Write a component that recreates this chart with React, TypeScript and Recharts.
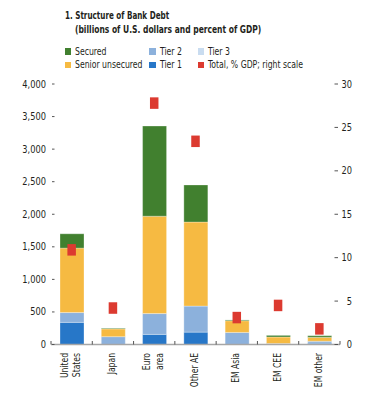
import React from 'react';
import { ComposedChart, Bar, Line, XAxis, YAxis } from 'recharts';

const categories = ['United States', 'Japan', 'Euro area', 'Other AE', 'EM Asia', 'EM CEE', 'EM other'];
const categoryLines = [['United', 'States'], ['Japan'], ['Euro', 'area'], ['Other AE'], ['EM Asia'], ['EM CEE'], ['EM other']];
const tier1 = [340, 0, 155, 190, 0, 8, 20];
const tier2 = [150, 120, 320, 400, 185, 7, 30];
const tier3 = [0, 0, 0, 0, 0, 0, 0];
const seniorUnsecured = [990, 120, 1495, 1290, 180, 100, 60];
const secured = [220, 10, 1385, 570, 12, 25, 25];
const totalGdp = [10.9, 4.2, 27.8, 23.4, 3.1, 4.5, 1.8];
const leftTicks = [0, 500, 1000, 1500, 2000, 2500, 3000, 3500, 4000];
const rightTicks = [0, 5, 10, 15, 20, 25, 30];

const data = categories.map((c, i) => ({
  name: c,
  tier1: tier1[i],
  tier2: tier2[i],
  tier3: tier3[i],
  senior: seniorUnsecured[i],
  secured: secured[i],
  total: totalGdp[i],
}));

const W = 366;
const H = 400;
const PLOT_LEFT = 51;
const PLOT_RIGHT = 340;
const PLOT_TOP = 84;
const PLOT_BOTTOM = 344.5;
const FONT = "'DejaVu Sans Condensed', 'Liberation Sans Narrow', 'Arial Narrow', sans-serif";
const TEXT = '#231f20';

const C = {
  secured: '#41802f',
  senior: '#f6ba42',
  tier2: '#8cb1dc',
  tier3: '#c9dcf0',
  tier1: '#2777c8',
  red: '#dc3a30',
};

const LeftTick = (props: any) => {
  const { y, payload } = props;
  const tx = PLOT_LEFT - 5;
  return (
    <g>
      <line x1={PLOT_LEFT + 1} x2={PLOT_LEFT + 3.5} y1={y} y2={y} stroke="#555" strokeWidth={1} />
      <text
        transform={`translate(${tx} ${y + 3.5}) scale(0.92 1)`}
        textAnchor="end"
        fontFamily={FONT}
        fontSize={10}
        fill={TEXT}
      >
        {Number(payload.value).toLocaleString('en-US')}
      </text>
    </g>
  );
};

const RightTick = (props: any) => {
  const { y, payload } = props;
  const tx = PLOT_RIGHT + 12;
  return (
    <g>
      <line x1={PLOT_RIGHT - 5.5} x2={PLOT_RIGHT - 2} y1={y} y2={y} stroke="#555" strokeWidth={1} />
      <text
        transform={`translate(${tx} ${y + 3.5}) scale(0.92 1)`}
        textAnchor="end"
        fontFamily={FONT}
        fontSize={10}
        fill={TEXT}
      >
        {payload.value}
      </text>
    </g>
  );
};

const XTick = (props: any) => {
  const { x, index } = props;
  const band = (PLOT_RIGHT - PLOT_LEFT) / categories.length;
  const lines = categoryLines[index] || [];
  const top = PLOT_BOTTOM + 8.5;
  const cx = x - 1;
  const spacing = 12.7;
  return (
    <g>
      <line x1={x - band / 2} x2={x - band / 2} y1={PLOT_BOTTOM} y2={PLOT_BOTTOM - 3.5} stroke="#555" strokeWidth={1} />
      {index === categories.length - 1 && (
        <line x1={x + band / 2} x2={x + band / 2} y1={PLOT_BOTTOM} y2={PLOT_BOTTOM - 3.5} stroke="#555" strokeWidth={1} />
      )}
      {lines.map((ln, i) => {
        const bx = cx + 3.5 + (i - (lines.length - 1) / 2) * spacing;
        return (
          <text
            key={i}
            transform={`translate(${bx} ${top}) rotate(-90) scale(0.85 1)`}
            textAnchor="end"
            fontFamily={FONT}
            fontSize={10}
            fill={TEXT}
          >
            {ln}
          </text>
        );
      })}
    </g>
  );
};

const renderMarker = (p: any) => {
  if (p.cx == null || p.cy == null) return <g key={p.index} />;
  return <rect key={p.index} x={p.cx - 4.25} y={p.cy - 5.75} width={8.5} height={11.5} fill={C.red} />;
};

const legendItems = [
  { label: 'Secured', color: C.secured, x: 64.5, y: 51.7 },
  { label: 'Tier 2', color: C.tier2, x: 149, y: 51.7 },
  { label: 'Tier 3', color: C.tier3, x: 197.7, y: 51.7 },
  { label: 'Senior unsecured', color: C.senior, x: 64.5, y: 65.2 },
  { label: 'Tier 1', color: C.tier1, x: 149, y: 65.2 },
  { label: 'Total, % GDP; right scale', color: C.red, x: 197.7, y: 65.2 },
];

const barStroke = { stroke: '#ffffff', strokeWidth: 0.6, strokeOpacity: 0.5 };

export default function App() {
  return (
    <div style={{ position: 'absolute', left: 0, top: 0, width: W, height: H, background: '#fff', fontFamily: FONT, color: TEXT }}>
      <div
        style={{
          position: 'absolute', left: 65, top: 9.5, fontSize: 10, fontWeight: 'bold', lineHeight: '12px',
          whiteSpace: 'nowrap', transform: 'scaleX(0.8)', transformOrigin: 'left center',
        }}
      >
        1. Structure of Bank Debt
      </div>
      <div
        style={{
          position: 'absolute', left: 75.3, top: 23.5, fontSize: 10, fontWeight: 'bold', lineHeight: '12px',
          whiteSpace: 'nowrap', transform: 'scaleX(0.84)', transformOrigin: 'left center',
        }}
      >
        (billions of U.S. dollars and percent of GDP)
      </div>
      {legendItems.map((it) => (
        <div key={it.label} style={{ position: 'absolute', left: it.x, top: it.y - 6, height: 12, whiteSpace: 'nowrap' }}>
          <span style={{ position: 'absolute', left: 0, top: 2.75, width: 6.5, height: 6.5, background: it.color }} />
          <span
            style={{
              position: 'absolute', left: 10.5, top: 0, fontSize: 10, lineHeight: '12px',
              transform: 'scaleX(0.86)', transformOrigin: 'left center',
            }}
          >
            {it.label}
          </span>
        </div>
      ))}
      <div style={{ position: 'absolute', left: 0, top: 0 }}>
        <ComposedChart
          width={W}
          height={H}
          data={data}
          margin={{ top: PLOT_TOP, right: 0, bottom: 0, left: 0 }}
          barCategoryGap={0}
        >
          <XAxis
            dataKey="name"
            height={H - PLOT_BOTTOM}
            axisLine={{ stroke: '#a6a6a6', strokeWidth: 1.5 }}
            tickLine={false}
            tickSize={0}
            interval={0}
            tick={XTick}
          />
          <YAxis
            yAxisId="left"
            orientation="left"
            domain={[0, 4000]}
            ticks={leftTicks}
            width={PLOT_LEFT}
            axisLine={false}
            tickLine={false}
            tickSize={0}
            interval={0}
            tick={LeftTick}
          />
          <YAxis
            yAxisId="right"
            orientation="right"
            domain={[0, 30]}
            ticks={rightTicks}
            width={W - PLOT_RIGHT}
            axisLine={false}
            tickLine={false}
            tickSize={0}
            interval={0}
            tick={RightTick}
          />
          <Bar yAxisId="left" dataKey="tier1" stackId="a" fill={C.tier1} barSize={24} {...barStroke} isAnimationActive={false} />
          <Bar yAxisId="left" dataKey="tier2" stackId="a" fill={C.tier2} barSize={24} {...barStroke} isAnimationActive={false} />
          <Bar yAxisId="left" dataKey="tier3" stackId="a" fill={C.tier3} barSize={24} {...barStroke} isAnimationActive={false} />
          <Bar yAxisId="left" dataKey="senior" stackId="a" fill={C.senior} barSize={24} {...barStroke} isAnimationActive={false} />
          <Bar yAxisId="left" dataKey="secured" stackId="a" fill={C.secured} barSize={24} {...barStroke} isAnimationActive={false} />
          <Line
            yAxisId="right"
            dataKey="total"
            stroke="none"
            dot={renderMarker}
            activeDot={false}
            legendType="none"
            isAnimationActive={false}
          />
        </ComposedChart>
      </div>
    </div>
  );
}
